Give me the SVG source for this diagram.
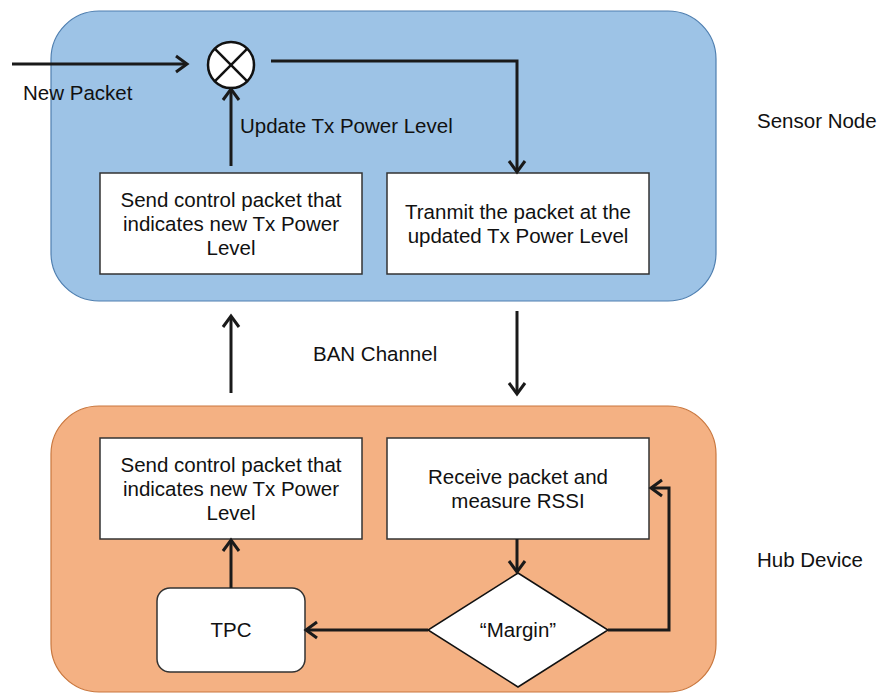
<svg xmlns="http://www.w3.org/2000/svg" width="878" height="693" viewBox="0 0 878 693">
  <defs>
    <style>
      text { font-family: "Liberation Sans", Arial, sans-serif; font-size: 20.5px; fill: #111; }
      .mid { text-anchor: middle; }
      .box { fill: #fff; stroke: #333; stroke-width: 1.5; }
      .wire { fill: none; stroke: #1a1a1a; stroke-width: 3; stroke-linejoin: miter; }
    </style>
    <!-- open chevron arrowhead, tip at the path end -->
    <marker id="open" markerUnits="userSpaceOnUse" markerWidth="30" markerHeight="30" viewBox="-15 -15 30 30" refX="0" refY="0" orient="auto" overflow="visible">
      <path d="M-11,-8 L0,0 L-11,8" fill="none" stroke="#1a1a1a" stroke-width="3"/>
    </marker>
  </defs>

  <!-- Sensor node container -->
  <g id="sensor-node">
    <rect x="51" y="11" width="665" height="290" rx="48" ry="48" fill="#9dc3e6" stroke="#4f7fb0" stroke-width="1.2"/>
    <text x="757" y="128">Sensor Node</text>
  </g>

  <!-- Hub device container -->
  <g id="hub-device">
    <rect x="51" y="406" width="665" height="286" rx="48" ry="48" fill="#f4b183" stroke="#c9773e" stroke-width="1.2"/>
    <text x="757" y="567">Hub Device</text>
  </g>

  <!-- Multiplier / combiner -->
  <g id="combiner">
    <circle cx="231" cy="65" r="23" fill="#fff" stroke="#111" stroke-width="2.5"/>
    <line x1="214.7" y1="48.7" x2="247.3" y2="81.3" stroke="#111" stroke-width="2.5"/>
    <line x1="247.3" y1="48.7" x2="214.7" y2="81.3" stroke="#111" stroke-width="2.5"/>
  </g>

  <g id="sensor-send">
    <rect class="box" x="100" y="173" width="262" height="101"/>
    <text class="mid" x="231" y="207">Send control packet that</text>
    <text class="mid" x="231" y="231">indicates new Tx Power</text>
    <text class="mid" x="231" y="255">Level</text>
  </g>

  <g id="sensor-transmit">
    <rect class="box" x="387" y="173" width="262" height="101"/>
    <text class="mid" x="518" y="219">Tranmit the packet at the</text>
    <text class="mid" x="518" y="243">updated Tx Power Level</text>
  </g>

  <g id="hub-send">
    <rect class="box" x="100" y="438" width="262" height="101"/>
    <text class="mid" x="231" y="472">Send control packet that</text>
    <text class="mid" x="231" y="496">indicates new Tx Power</text>
    <text class="mid" x="231" y="520">Level</text>
  </g>

  <g id="hub-receive">
    <rect class="box" x="387" y="438" width="262" height="101"/>
    <text class="mid" x="518" y="484">Receive packet and</text>
    <text class="mid" x="518" y="508">measure RSSI</text>
  </g>

  <g id="margin">
    <polygon points="518,573 608,630 518,687 428,630" fill="#fff" stroke="#111" stroke-width="1.5"/>
    <text class="mid" x="518" y="637">“Margin”</text>
  </g>

  <g id="tpc">
    <rect class="box" x="157" y="588" width="148" height="84" rx="13" ry="13"/>
    <text class="mid" x="231" y="637">TPC</text>
  </g>

  <!-- Free labels -->
  <g id="labels">
    <text x="23" y="100">New Packet</text>
    <text x="240" y="133">Update Tx Power Level</text>
    <text x="313" y="361">BAN Channel</text>
  </g>

  <!-- Connectors -->
  <g id="connectors">
    <path class="wire" d="M12,64 L187,64" marker-end="url(#open)"/>
    <path class="wire" d="M231,166 L231,89" marker-end="url(#open)"/>
    <path class="wire" d="M271,61 L517,61 L517,172" marker-end="url(#open)"/>
    <path class="wire" d="M231,393 L231,316" marker-end="url(#open)"/>
    <path class="wire" d="M517,311 L517,394" marker-end="url(#open)"/>
    <path class="wire" d="M517,539 L517,572" marker-end="url(#open)"/>
    <path class="wire" d="M608,630 L669,630 L669,488 L651,488" marker-end="url(#open)"/>
    <path class="wire" d="M428,630 L306,630" marker-end="url(#open)"/>
    <path class="wire" d="M231,588 L231,540" marker-end="url(#open)"/>
  </g>
</svg>
